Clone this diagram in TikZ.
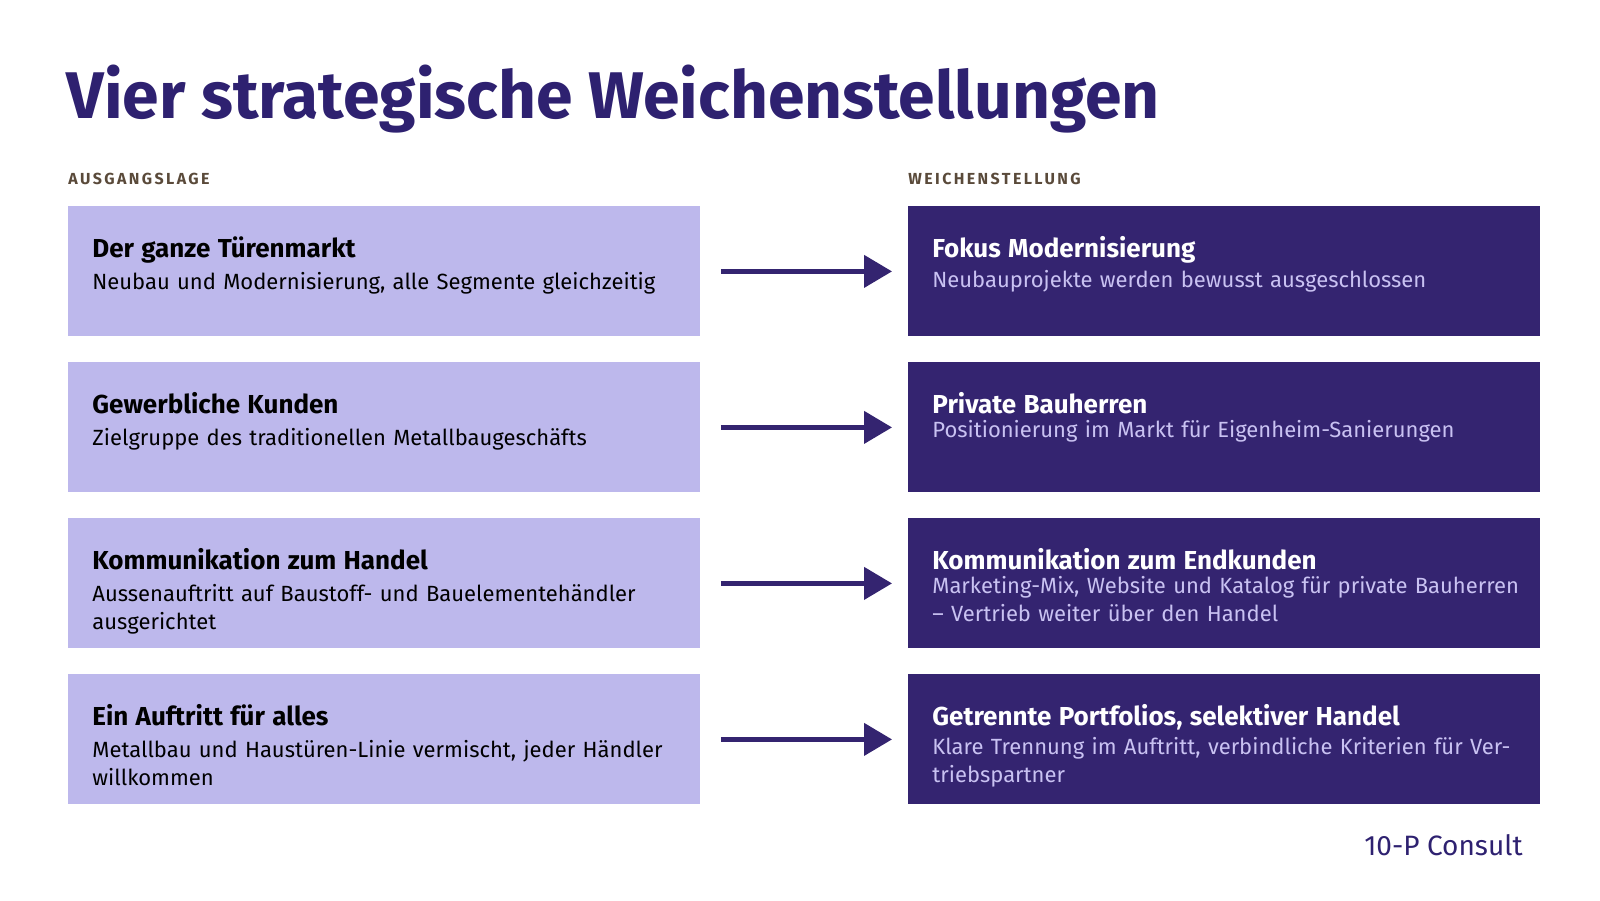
\documentclass[tikz,border=0pt]{standalone}
\usepackage{fontspec}
\setmainfont{Fira Sans}
\usetikzlibrary{positioning,arrows.meta}
\definecolor{lila}{HTML}{BDB8EC}
\definecolor{nacht}{HTML}{342470}
\definecolor{titel}{HTML}{2E2170}
\definecolor{hell}{HTML}{C9C2F2}
\definecolor{braun}{HTML}{5A4A3A}
\tikzset{
  alt/.style={fill=lila,minimum width=316pt,minimum height=65pt,anchor=north west,inner sep=0pt},
  neu/.style={fill=nacht,minimum width=316pt,minimum height=65pt,anchor=north west,inner sep=0pt},
  txt/.style={anchor=north west,text width=295pt,align=left,inner sep=0pt,font=\fontsize{11}{14}\selectfont},
  pfeil/.style={-{Triangle[length=14pt,width=16pt]},line width=2.2pt,nacht},
  kopf/.style={anchor=west,inner sep=0pt,font=\fontsize{8}{10}\selectfont\bfseries\addfontfeature{LetterSpace=15},braun}
}
\newcommand{\zeile}[5]{%
  \node[alt] (A#1) at (68,#2) {};
  \node[neu] (B#1) at (908,#2) {};
  \node[txt,text=black] (tA#1) at (92,#2+30) {{\fontsize{13}{16}\selectfont\bfseries #3}\\[2pt]#4};
  \node[txt,text=white] (tB#1) at (932,#2+30) {{\fontsize{13}{16}\selectfont\bfseries #5}};
}
\begin{document}
\begin{tikzpicture}[x=0.5pt,y=-0.5pt]
  \useasboundingbox (0,0) rectangle (1600,900);
  \node[anchor=base west,inner sep=0pt,text=titel,font=\fontsize{33}{36}\selectfont\bfseries] (titel) at (66,118) {Vier strategische Weichenstellungen};
  \node[kopf] (kA) at (68,179) {AUSGANGSLAGE};
  \node[kopf] (kB) at (908,179) {WEICHENSTELLUNG};

  \zeile{1}{206}{Der ganze Türenmarkt}{Neubau und Modernisierung, alle Segmente gleichzeitig}{Fokus Modernisierung}
  \zeile{2}{362}{Gewerbliche Kunden}{Zielgruppe des traditionellen Metallbaugeschäfts}{Private Bauherren}
  \zeile{3}{518}{Kommunikation zum Handel}{Aussenauftritt auf Baustoff- und Bauelementehändler ausgerichtet}{Kommunikation zum Endkunden}
  \zeile{4}{674}{Ein Auftritt für alles}{Metallbau und Haustüren-Linie vermischt, jeder Händler willkommen}{Getrennte Portfolios, selektiver Handel}

  % Beschreibungen rechts
  \node[txt,text=hell,below=3pt of tB1.south west,anchor=north west] (dB1) {Neubauprojekte werden bewusst ausgeschlossen};
  \node[txt,text=hell,below=3pt of tB2.south west,anchor=north west] (dB2) {Positionierung im Markt für Eigenheim-Sanierungen};
  \node[txt,text=hell,below=3pt of tB3.south west,anchor=north west] (dB3) {Marketing-Mix, Website und Katalog für private Bauherren – Vertrieb weiter über den Handel};
  \node[txt,text=hell,below=3pt of tB4.south west,anchor=north west] (dB4) {Klare Trennung im Auftritt, verbindliche Kriterien für Vertriebspartner};

  \foreach \i in {1,...,4}
    \draw[pfeil] ([xshift=10pt]A\i.east) -- ([xshift=-8pt]B\i.west);

  \node[anchor=base east,inner sep=0pt,text=titel,font=\fontsize{14}{16}\selectfont] (logo) at (1523,855) {10-P Consult};
\end{tikzpicture}
\end{document}
